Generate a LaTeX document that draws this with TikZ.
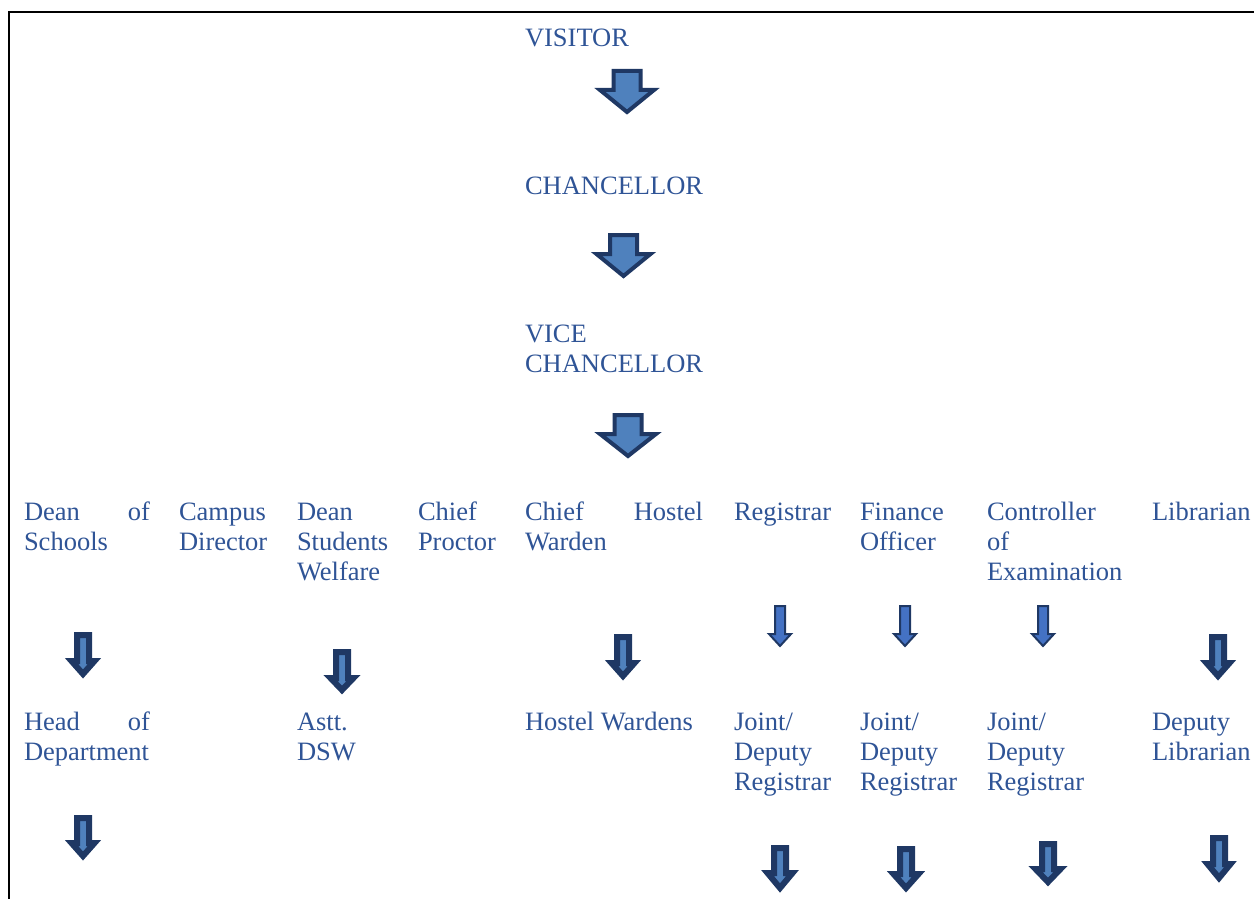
\documentclass[tikz,border=0pt]{standalone}
\usepackage{fontspec}
\setmainfont{Liberation Serif}
\definecolor{txt}{HTML}{2F5496}
\definecolor{navy}{HTML}{1F3864}
\definecolor{arrblue}{HTML}{4F81BD}
\definecolor{litblue}{HTML}{4472C4}
\tikzset{
  lbl/.style={anchor=base west, inner sep=0pt, outer sep=0pt, text=txt,
    font=\fontsize{26.5}{30}\selectfont},
  bigarr/.style={draw=navy, line width=4pt, fill=arrblue, line join=miter},
  darkarr/.style={draw=navy, line width=6pt, fill=arrblue, line join=miter},
  lightarr/.style={draw=navy, line width=2pt, fill=litblue, line join=miter},
}
% #1 style, #2 cx, #3 top, #4 neck, #5 tip, #6 shaft half width, #7 head half width
\newcommand\barrow[7]{%
  \draw[#1] ({#2-#6},#3) -- ({#2+#6},#3) -- ({#2+#6},#4) -- ({#2+#7},#4)
    -- (#2,#5) -- ({#2-#7},#4) -- ({#2-#6},#4) -- cycle;}
\newcommand\col[1]{\begin{tabular}[t]{@{}l@{}}#1\end{tabular}}
\begin{document}
\begin{tikzpicture}[x=1pt,y={(0pt,-1pt)}]
\useasboundingbox (0,0) rectangle (1254,899);
% frame
\draw[line width=1.7pt] (9,899) -- (9,12) -- (1254,12);
% top chain
\node[lbl] (visitor) at (525,46.5) {VISITOR};
\node[lbl] (chanc) at (525,194.5) {CHANCELLOR};
\node[lbl] (vc) at (525,342.5) {\col{VICE\\CHANCELLOR}};
\barrow{bigarr}{627}{71}{90}{112}{13.5}{27}
\barrow{bigarr}{623.5}{235}{254}{276}{13.5}{27}
\barrow{bigarr}{628}{415}{434}{456}{13.5}{28}
% first row
\node[lbl] (dos) at (24,520.5) {\col{\hbox to 126pt{Dean\hfill of}\\Schools}};
\node[lbl] (cd) at (179,520.5) {\col{Campus\\Director}};
\node[lbl] (dsw) at (297,520.5) {\col{Dean\\Students\\Welfare}};
\node[lbl] (cp) at (418,520.5) {\col{Chief\\Proctor}};
\node[lbl] (chw) at (525,520.5) {\col{\hbox to 178pt{Chief\hfill Hostel}\\Warden}};
\node[lbl] (reg) at (734,520.5) {Registrar};
\node[lbl] (fo) at (860,520.5) {\col{Finance\\Officer}};
\node[lbl] (coe) at (987,520.5) {\col{Controller\\of\\Examination}};
\node[lbl] (lib) at (1152,520.5) {Librarian};
% arrows first row
\barrow{darkarr}{83}{635}{661}{674}{6}{11.5}
\barrow{darkarr}{342}{652}{678}{690}{6}{11.5}
\barrow{darkarr}{623}{637}{663}{676}{6}{11.5}
\barrow{darkarr}{1218}{637}{663}{676}{6}{11.5}
\barrow{lightarr}{780}{606}{634}{646}{5}{11}
\barrow{lightarr}{905}{606}{634}{646}{5}{11}
\barrow{lightarr}{1043}{606}{634}{646}{5}{11}
% second row
\node[lbl] (hod) at (24,730.5) {\col{\hbox to 126pt{Head\hfill of}\\Department}};
\node[lbl] (adsw) at (297,730.5) {\col{Astt.\\DSW}};
\node[lbl] (hw) at (525,730.5) {Hostel Wardens};
\node[lbl] (jdr1) at (734,730.5) {\col{Joint/\\Deputy\\Registrar}};
\node[lbl] (jdr2) at (860,730.5) {\col{Joint/\\Deputy\\Registrar}};
\node[lbl] (jdr3) at (987,730.5) {\col{Joint/\\Deputy\\Registrar}};
\node[lbl] (dl) at (1152,730.5) {\col{Deputy\\Librarian}};
% arrows second row
\barrow{darkarr}{83}{818}{843}{856}{6}{11.5}
\barrow{darkarr}{780}{848}{873}{888}{6}{12.5}
\barrow{darkarr}{906}{849}{874}{888}{6}{12.5}
\barrow{darkarr}{1048}{844}{869}{882}{6}{12.5}
\barrow{darkarr}{1219}{838}{864}{878}{6}{11.5}
\end{tikzpicture}
\end{document}
